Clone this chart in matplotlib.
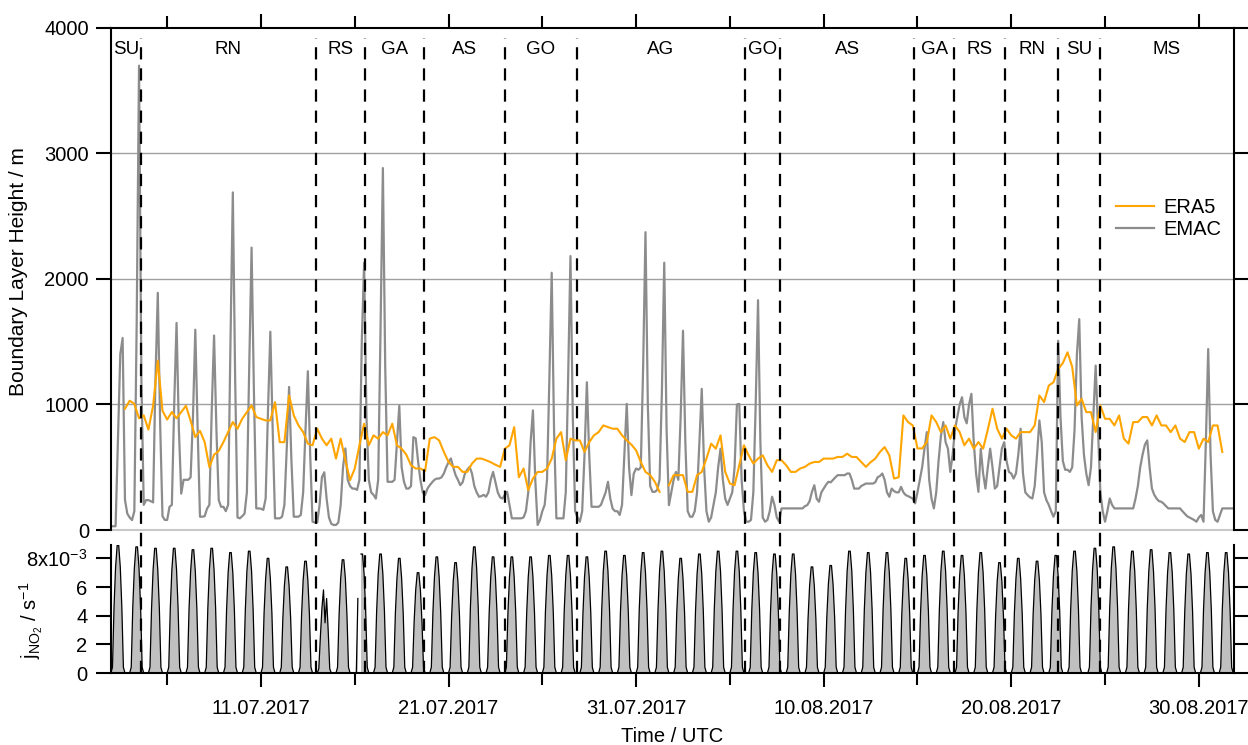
import numpy as np
import pandas as pd
import matplotlib
matplotlib.use("Agg")
import matplotlib.pyplot as plt
import matplotlib.dates as mdates
import matplotlib.ticker as mticker

plt.rcParams['font.family'] = ['Liberation Sans', 'DejaVu Sans']
plt.rcParams['mathtext.fontset'] = 'custom'
plt.rcParams['mathtext.rm'] = 'Liberation Sans'
plt.rcParams['mathtext.it'] = 'Liberation Sans:italic'

t_start = "2017-07-03 00:00"
t_end = "2017-08-31 21:00"

# EMAC boundary layer height / m, 3-hourly (00,03,...,21 UTC), one row per day from 03.07.2017
emac_blh = [
    [30, 30, 30, 700, 1400, 1530, 240, 130],
    [100, 79, 150, 1650, 3700, 1200, 200, 238],
    [238, 230, 220, 1200, 1890, 850, 110, 80],
    [80, 185, 200, 1000, 1650, 800, 290, 400],
    [400, 400, 420, 900, 1596, 800, 106, 106],
    [110, 170, 200, 950, 1550, 800, 238, 185],
    [185, 150, 200, 1500, 2690, 1200, 100, 93],
    [110, 130, 300, 1300, 2250, 1100, 172, 172],
    [170, 160, 250, 950, 1580, 800, 93, 93],
    [93, 106, 200, 650, 1140, 550, 106, 106],
    [106, 120, 300, 800, 1265, 600, 66, 60],  # 13.07.
    [60, 200, 420, 460, 250, 100, 50, 40],
    [40, 60, 200, 500, 650, 400, 350, 330],
    [330, 320, 400, 1500, 2130, 900, 400, 300],
    [280, 250, 400, 1600, 2884, 1300, 384, 384],
    [384, 400, 700, 990, 500, 384, 330, 330],
    [350, 740, 730, 550, 400, 300, 278, 330],
    [357, 380, 400, 410, 410, 420, 450, 500],
    [540, 570, 500, 437, 400, 357, 380, 450],
    [480, 503, 450, 350, 300, 265, 270, 280],
    [265, 300, 400, 463, 380, 300, 260, 250],  # 23.07.
    [280, 304, 200, 93, 93, 93, 93, 93],
    [100, 150, 300, 700, 953, 400, 40, 80],
    [150, 200, 400, 1200, 2050, 800, 93, 93],
    [93, 93, 300, 1200, 2183, 900, 150, 100],
    [66, 150, 600, 1177, 600, 185, 185, 185],
    [185, 200, 250, 300, 384, 250, 170, 150],
    [150, 120, 200, 600, 1005, 500, 278, 450],
    [490, 480, 500, 1300, 2373, 1000, 350, 304],
    [304, 320, 400, 1100, 2130, 800, 198, 300],
    [400, 463, 400, 900, 1588, 700, 150, 106],  # 02.08.
    [106, 150, 300, 700, 1125, 500, 150, 66],
    [100, 200, 300, 500, 648, 400, 250, 200],
    [250, 300, 500, 1000, 1005, 400, 150, 66],
    [66, 80, 300, 1000, 1831, 700, 100, 66],
    [80, 150, 265, 200, 100, 66, 172, 172],
    [172, 172, 172, 172, 172, 172, 172, 172],
    [190, 198, 230, 304, 357, 250, 225, 300],
    [330, 360, 384, 380, 400, 420, 437, 437],
    [437, 437, 450, 450, 400, 330, 330, 330],
    [350, 360, 370, 370, 370, 370, 380, 420],  # 12.08.
    [430, 450, 400, 300, 265, 330, 310, 300],
    [300, 344, 300, 278, 270, 260, 250, 212],
    [300, 400, 500, 650, 780, 400, 250, 172],
    [300, 550, 750, 860, 700, 648, 463, 600],
    [800, 900, 1000, 1058, 900, 850, 1000, 1085],
    [700, 450, 304, 648, 450, 330, 500, 648],
    [500, 330, 350, 500, 650, 700, 550, 463],
    [450, 410, 450, 600, 807, 450, 300, 278],
    [260, 251, 350, 600, 873, 700, 300, 238],
    [200, 150, 106, 150, 1508, 900, 550, 480],  # 22.08.
    [480, 463, 500, 800, 1400, 1680, 900, 600],
    [450, 357, 500, 900, 1310, 800, 300, 150],
    [66, 150, 251, 200, 172, 172, 172, 172],
    [172, 172, 172, 172, 172, 250, 350, 500],
    [600, 680, 714, 500, 330, 280, 250, 230],
    [225, 210, 190, 172, 172, 172, 172, 172],
    [172, 150, 130, 110, 100, 90, 80, 66],
    [100, 120, 66, 700, 1442, 600, 150, 80],
    [66, 120, 172, 172, 172, 172, 172, 172],
]

# ERA5 boundary layer height / m, 6-hourly (00,06,12,18 UTC), one row per day from 03.07.2017
nan = float("nan")
era5_blh = [
    [nan, nan, nan, 966], [1030, 1005, 890, 913], [800, 990, 1350, 950],
    [880, 940, 890, 940], [990, 870, 740, 790], [700, 500, 600, 630],
    [701, 780, 860, 807], [886, 939, 992, 900], [886, 873, 873, 1019],
    [700, 700, 1072, 913], [834, 780, 688, 675], [807, 728, 675, 728],
    [569, 728, 556, 397], [490, 675, 847, 675], [754, 728, 780, 754],
    [847, 675, 648, 600], [516, 490, 490, 470], [728, 740, 714, 622],
    [542, 503, 503, 463], [463, 529, 569, 569], [556, 540, 520, 503],
    [648, 675, 820, 420], [490, 318, 410, 463], [463, 490, 569, 728],
    [780, 556, 728, 714], [714, 622, 700, 754], [780, 833, 820, 807],
    [807, 754, 714, 680], [635, 542, 463, 437], [384, 304, nan, 357],
    [437, 437, 437, 304], [304, 437, 463, 569], [688, 648, 754, 463],
    [370, 357, 516, 675], [595, 529, 569, 595], [516, 463, 556, 556],
    [516, 463, 463, 490], [503, 529, 542, 542], [569, 569, 569, 582],
    [582, 608, 582, 582], [542, 503, 540, 569], [622, 661, 595, 410],
    [420, 913, 860, 833], [650, 650, 701, 913], [860, 780, 833, 728],
    [833, 780, 675, 728], [648, 701, 648, 800], [966, 807, 728, 807],
    [754, 728, 780, 780], [780, 833, 1072, 1019], [1151, 1177, 1283, 1330],
    [1416, 1300, 992, 1045], [939, 939, 780, 992], [886, 886, 833, 913],
    [728, 688, 860, 860], [900, 900, 833, 913], [833, 833, 780, 833],
    [728, 701, 780, 780], [648, 728, 701, 833], [833, 622, nan, nan],
]

# j(NO2) / 1e-3 s-1, 2-hourly (00,02,...,22 UTC), one row per day from 03.07.2017
jno2_e3 = [
    [0, 0.4, 4.6, 7.4, 8.9, 8.9, 7.4, 4.6, 0.4, 0, 0, 0],
    [0, 0.4, 4.6, 7.3, 8.8, 8.8, 7.3, 4.6, 0.4, 0, 0, 0],
    [0, 0.4, 4.5, 7.2, 8.7, 8.7, 7.2, 4.5, 0.4, 0, 0, 0],
    [0, 0.4, 4.5, 7.2, 8.7, 8.7, 7.2, 4.5, 0.4, 0, 0, 0],
    [0, 0.4, 4.5, 7.1, 8.6, 8.6, 7.1, 4.5, 0.4, 0, 0, 0],
    [0, 0.4, 4.5, 7.2, 8.7, 8.7, 7.2, 4.5, 0.4, 0, 0, 0],
    [0, 0.4, 4.4, 7.0, 8.4, 8.4, 7.0, 4.4, 0.4, 0, 0, 0],
    [0, 0.4, 4.4, 7.1, 8.5, 8.5, 7.1, 4.4, 0.4, 0, 0, 0],
    [0, 0.4, 4.2, 6.6, 8.0, 8.0, 6.6, 4.2, 0.4, 0, 0, 0],
    [0, 0.4, 3.8, 6.1, 7.4, 7.4, 6.1, 3.8, 0.4, 0, 0, 0],
    [0, 0.4, 4.1, 6.5, 7.8, 7.8, 6.5, 4.1, 0.4, 0, 0, 0],
    [0, 0.3, 2.5, 4.5, 5.8, 3.5, 5.2, 3.0, 0.3, 0, 0, 0],
    [0, 0.4, 4.1, 6.6, 7.9, 7.9, 6.6, 4.1, 0.4, 0, 0, 0],
    [0, 0, 5.2, nan, 8.3, 8.3, 6.9, 4.3, 0.4, 0, 0, 0],
    [0, 0.4, 4.3, 6.9, 8.3, 8.3, 6.9, 4.3, 0.4, 0, 0, 0],
    [0, 0.4, 4.2, 6.6, 8.0, 8.0, 6.6, 4.2, 0.4, 0, 0, 0],
    [0, 0.4, 3.6, 5.8, 7.0, 7.0, 5.8, 3.6, 0.4, 0, 0, 0],
    [0, 0.4, 4.2, 6.7, 8.1, 8.1, 6.7, 4.2, 0.4, 0, 0, 0],
    [0, 0.4, 4.0, 6.4, 7.7, 7.7, 6.4, 4.0, 0.4, 0, 0, 0],
    [0, 0.4, 4.6, 7.3, 8.8, 8.8, 7.3, 4.6, 0.4, 0, 0, 0],
    [0, 0.4, 4.2, 6.7, 8.1, 8.1, 6.7, 4.2, 0.4, 0, 0, 0],
    [0, 0.4, 4.2, 6.7, 8.1, 8.1, 6.7, 4.2, 0.4, 0, 0, 0],
    [0, 0.4, 4.2, 6.7, 8.1, 8.1, 6.7, 4.2, 0.4, 0, 0, 0],
    [0, 0.4, 4.3, 6.8, 8.2, 8.2, 6.8, 4.3, 0.4, 0, 0, 0],
    [0, 0.4, 4.3, 6.8, 8.2, 8.2, 6.8, 4.3, 0.4, 0, 0, 0],
    [0, 0.4, 4.2, 6.7, 8.1, 8.1, 6.7, 4.2, 0.4, 0, 0, 0],
    [0, 0.4, 4.4, 7.1, 8.5, 8.5, 7.1, 4.4, 0.4, 0, 0, 0],
    [0, 0.4, 4.3, 6.8, 8.2, 8.2, 6.8, 4.3, 0.4, 0, 0, 0],
    [0, 0.4, 4.4, 7.0, 8.4, 8.4, 7.0, 4.4, 0.4, 0, 0, 0],
    [0, 0.4, 4.4, 7.1, 8.5, 8.5, 7.1, 4.4, 0.4, 0, 0, 0],
    [0, 0.4, 4.2, 6.6, 8.0, 8.0, 6.6, 4.2, 0.4, 0, 0, 0],
    [0, 0.4, 4.3, 6.9, 8.3, 8.3, 6.9, 4.3, 0.4, 0, 0, 0],
    [0, 0.4, 4.4, 7.1, 8.5, 8.5, 7.1, 4.4, 0.4, 0, 0, 0],
    [0, 0.4, 4.4, 7.1, 8.5, 8.5, 7.1, 4.4, 0.4, 0, 0, 0],
    [0, 0.4, 4.4, 7.0, 8.4, 8.4, 7.0, 4.4, 0.4, 0, 0, 0],
    [0, 0.4, 4.3, 6.9, 8.3, 8.3, 6.9, 4.3, 0.4, 0, 0, 0],
    [0, 0.4, 4.3, 6.9, 8.3, 8.3, 6.9, 4.3, 0.4, 0, 0, 0],
    [0, 0.4, 3.8, 6.1, 7.4, 7.4, 6.1, 3.8, 0.4, 0, 0, 0],
    [0, 0.4, 3.9, 6.2, 7.5, 7.5, 6.2, 3.9, 0.4, 0, 0, 0],
    [0, 0.4, 4.4, 7.1, 8.5, 8.5, 7.1, 4.4, 0.4, 0, 0, 0],
    [0, 0.4, 4.4, 7.0, 8.4, 8.4, 7.0, 4.4, 0.4, 0, 0, 0],
    [0, 0.4, 4.4, 7.0, 8.4, 8.4, 7.0, 4.4, 0.4, 0, 0, 0],
    [0, 0.4, 4.2, 6.6, 8.0, 8.0, 6.6, 4.2, 0.4, 0, 0, 0],
    [0, 0.4, 4.3, 6.8, 8.2, 8.2, 6.8, 4.3, 0.4, 0, 0, 0],
    [0, 0.4, 4.4, 7.1, 8.5, 8.5, 7.1, 4.4, 0.4, 0, 0, 0],
    [0, 0.4, 4.3, 6.8, 8.2, 8.2, 6.8, 4.3, 0.4, 0, 0, 0],
    [0, 0.4, 4.4, 7.0, 8.4, 8.4, 7.0, 4.4, 0.4, 0, 0, 0],
    [0, 0.4, 4.0, 6.4, 7.7, 7.7, 6.4, 4.0, 0.4, 0, 0, 0],
    [0, 0.4, 4.2, 6.6, 8.0, 8.0, 6.6, 4.2, 0.4, 0, 0, 0],
    [0, 0.4, 4.1, 6.5, 7.8, 7.8, 6.5, 4.1, 0.4, 0, 0, 0],
    [0, 0.4, 4.3, 6.8, 8.2, 8.2, 6.8, 4.3, 0.4, 0, 0, 0],
    [0, 0.4, 4.4, 7.1, 8.5, 8.5, 7.1, 4.4, 0.4, 0, 0, 0],
    [0, 0, 0.4, 4.5, 7.2, 8.7, 8.7, 7.2, 4.5, 0.4, 0, 0],
    [0, 0, 0.4, 4.6, 7.3, 8.8, 8.8, 7.3, 4.6, 0.4, 0, 0],
    [0, 0, 0.4, 4.4, 7.1, 8.5, 8.5, 7.1, 4.4, 0.4, 0, 0],
    [0, 0, 0.4, 4.5, 7.1, 8.6, 8.6, 7.1, 4.5, 0.4, 0, 0],
    [0, 0, 0.4, 4.4, 7.0, 8.4, 8.4, 7.0, 4.4, 0.4, 0, 0],
    [0, 0, 0.4, 4.3, 6.9, 8.3, 8.3, 6.9, 4.3, 0.4, 0, 0],
    [0, 0, 0.4, 4.4, 7.0, 8.4, 8.4, 7.0, 4.4, 0.4, 0, 0],
    [0, 0, 0.4, 4.4, 7.0, 8.4, 8.4, 7.0, 4.4, 0.4, 0, 0],
]

# cruise regions and the times of the boundaries between them
region_names = ["SU", "RN", "RS", "GA", "AS", "GO", "AG", "GO", "AS", "GA", "RS", "RN", "SU", "MS"]
region_bounds = ["2017-07-04 14:00", "2017-07-13 22:00", "2017-07-16 13:00", "2017-07-19 16:00",
                 "2017-07-24 00:00", "2017-07-27 20:00", "2017-08-05 19:00", "2017-08-07 16:00",
                 "2017-08-14 20:00", "2017-08-16 23:00", "2017-08-19 16:00", "2017-08-22 12:00",
                 "2017-08-24 17:00"]

emac = np.array(emac_blh, dtype=float).ravel()
era5 = np.array(era5_blh, dtype=float).ravel()
jno2 = np.array(jno2_e3, dtype=float).ravel()
t_emac = pd.date_range(t_start, periods=emac.size, freq="3h")
t_era5 = pd.date_range(t_start, periods=era5.size, freq="6h")
t_jno2 = pd.date_range(t_start, periods=jno2.size, freq="2h")
bounds = pd.to_datetime(region_bounds)
x0, x1 = pd.Timestamp(t_start), pd.Timestamp(t_end)

fig = plt.figure(figsize=(12.48, 7.45), dpi=100)
ax1 = fig.add_axes([0.08886, 0.28859, 0.89992, 0.67383])
ax2 = fig.add_axes([0.08886, 0.09664, 0.89992, 0.17181], sharex=ax1)

# top panel: boundary layer height
for yv in [1000, 2000, 3000]:
    ax1.axhline(yv, color="#a0a0a0", lw=1.0, zorder=0)
ax1.axhline(0, color="#c8c8c8", lw=1.5, zorder=0, clip_on=False)
l_emac, = ax1.plot(t_emac, emac, color="#8c8c8c", lw=1.6, zorder=2)
l_era5, = ax1.plot(t_era5, era5, color="#ffa500", lw=1.5, zorder=3)

edges = [x0] + list(bounds) + [x1]
for i, name in enumerate(region_names):
    mid = edges[i] + (edges[i + 1] - edges[i]) / 2
    ax1.text(mid, 3825, name, ha="center", va="center", fontsize=13.5)
for b in bounds:
    ax1.axvline(b, ymin=-0.03, ymax=0.98, color="k", lw=1.6, dashes=(5.5, 4), clip_on=False, zorder=4)
    ax2.axvline(b, color="k", lw=1.6, dashes=(5.5, 4), zorder=4)

ax1.set_ylim(0, 4000)
ax1.set_yticks([0, 1000, 2000, 3000, 4000])
ax1.set_xlim(x0, x1)
ax1.spines["bottom"].set_visible(False)
for s in ["left", "right", "top"]:
    ax1.spines[s].set_linewidth(1.5)
ax1.tick_params(axis="y", direction="out", length=10.8, width=1.5, left=True, right=True,
                labelsize=14.5, pad=5)
ax1.tick_params(axis="x", which="both", direction="out", top=True, bottom=False,
                labeltop=False, labelbottom=False, width=1.5)
ax1.tick_params(axis="x", which="major", length=10.4)
ax1.tick_params(axis="x", which="minor", length=8.3)

ax1.legend([l_era5, l_emac], ["ERA5", "EMAC"], loc="center left", bbox_to_anchor=(0.895, 0.6205),
           frameon=False, fontsize=14.5, handlelength=1.9, handletextpad=0.45,
           labelspacing=0.15, borderpad=0, borderaxespad=0)

# bottom panel: j(NO2)
ax2.fill_between(t_jno2, jno2, 0, color="#c0c0c0", lw=0, zorder=1)
ax2.plot(t_jno2, jno2, color="k", lw=0.9, zorder=2)
ax2.set_ylim(0, 8.93)
ax2.set_yticks([0, 2, 4, 6, 8])
ax2.set_yticklabels(["0", "2", "4", "6", r"8x10$^{\mathregular{-3}}$"])
ax2.spines["top"].set_visible(False)
for s in ["left", "right", "bottom"]:
    ax2.spines[s].set_linewidth(1.5)
ax2.tick_params(axis="y", direction="out", length=11, width=1.5, left=True, right=True,
                labelsize=14.5, pad=6)

major_ticks = pd.date_range("2017-07-11", periods=6, freq="10D")
minor_ticks = pd.date_range("2017-07-06", periods=6, freq="10D")
ax2.xaxis.set_major_locator(mticker.FixedLocator(mdates.date2num(major_ticks)))
ax2.xaxis.set_minor_locator(mticker.FixedLocator(mdates.date2num(minor_ticks)))
ax2.xaxis.set_major_formatter(mdates.DateFormatter("%d.%m.%Y"))
ax2.tick_params(axis="x", which="both", direction="out", width=1.5, labelsize=14.5, pad=8)
ax2.tick_params(axis="x", which="major", length=10.4)
ax2.tick_params(axis="x", which="minor", length=8.3)

fig.text(672 / 1248, 1 - 737 / 745, "Time / UTC", ha="center", va="center", fontsize=14.5)
fig.text(19 / 1248, 1 - 272 / 745, "Boundary Layer Height / m", rotation=90,
         ha="center", va="center", fontsize=15)
fig.text(31 / 1248, 1 - 620 / 745, r"j$_{\mathregular{NO}_{\mathregular{2}}}$ / s$^{\mathregular{-1}}$",
         rotation=90, ha="center", va="center", fontsize=14.5)

fig.savefig("out.png", dpi=100)
